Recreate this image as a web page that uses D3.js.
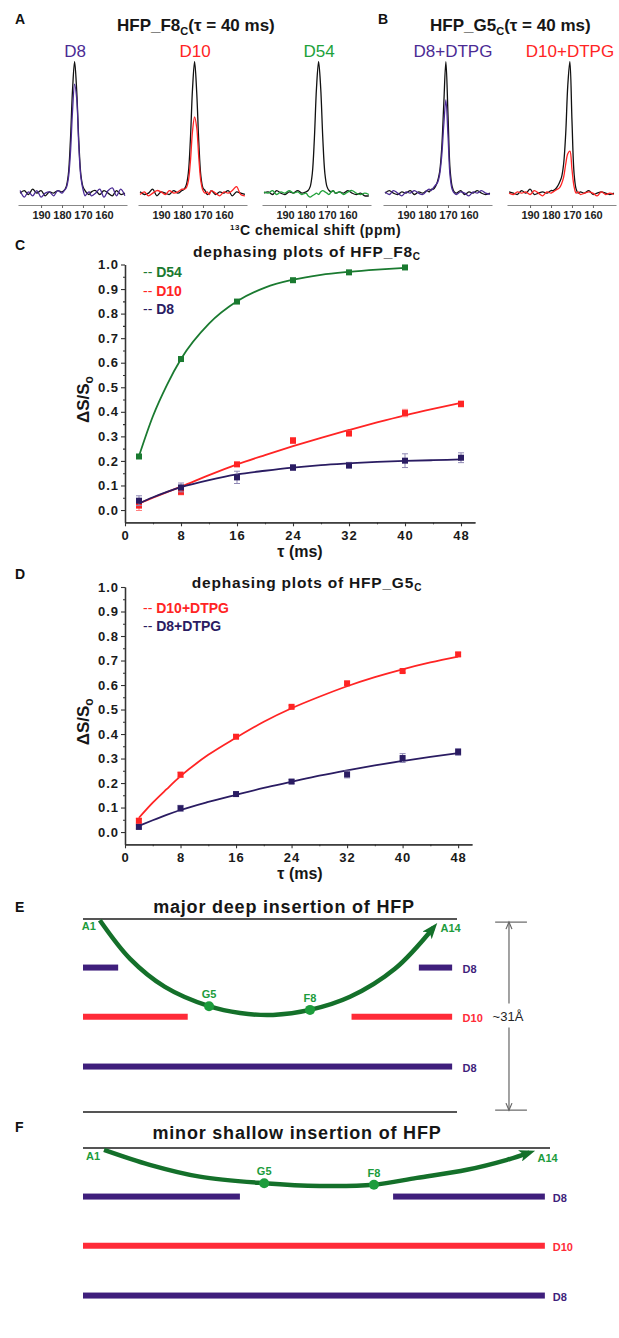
<!DOCTYPE html>
<html>
<head>
<meta charset="utf-8">
<script src="https://cdn.jsdelivr.net/npm/d3@7"></script>
<style>
body { margin: 0; background: #fff; }
svg { display: block; font-family: "Liberation Sans", Arial, sans-serif; }
</style>
</head>
<body>
<script>
// ---------- data: NMR spectra (ppm grid, intensity normalised to reference peak) ----------
var ppmGrid = [200,198,196,194,192,190,188,186,184,182,180,179,178,177,176,175,174,173,172,171,170,169,168,167,166,164,162,160,158,156,154,152,150];
var specTicks = [190, 180, 170, 160];
var specNames = ["D8", "D10", "D54", "D8+DTPG", "D10+DTPG"];

var refD8 = [0.00,0.02,-0.01,0.03,0.00,0.02,-0.02,0.01,0.00,0.02,0.01, 0.02,0.05,0.14,0.40,0.78,1.00,0.78,0.40,0.14,0.05,0.02,0.00,-0.01,0.01, 0.02,-0.01,0.02,0.00,-0.02,0.02,-0.01,0.00];
var depD8 = [0.02,-0.03,0.01,-0.02,0.02,-0.03,0.00,0.01,-0.02,0.02,0.00, 0.02,0.04,0.11,0.30,0.62,0.83,0.72,0.36,0.12,0.03,-0.02,0.00,0.01,-0.02, 0.00,0.03,-0.03,0.02,0.04,-0.02,0.03,-0.02];
var refD10 = [0.01,-0.01,0.00,0.03,-0.02,0.01,0.00,-0.01,0.02,0.00,0.02, 0.03,0.06,0.15,0.41,0.79,1.00,0.77,0.39,0.13,0.04,0.02,-0.01,0.00,0.02, -0.01,0.01,0.00,0.02,-0.02,0.01,0.00,-0.01];
var depD10 = [-0.01,0.01,-0.02,0.00,0.02,0.01,-0.01,0.02,0.00,0.01,0.03, 0.03,0.04,0.09,0.24,0.47,0.58,0.50,0.27,0.09,0.02,0.00,0.01,-0.01,0.02, 0.00,-0.02,0.01,0.00,0.02,0.05,-0.01,-0.02];
var refD54 = [0.00,0.01,-0.01,0.02,0.00,-0.01,0.01,0.00,0.02,0.00,0.01, 0.02,0.05,0.15,0.42,0.80,1.00,0.80,0.42,0.15,0.05,0.02,0.01,0.02,0.00, 0.01,0.00,0.02,0.00,-0.01,0.00,-0.02,-0.02];
var depD54 = [0.01,0.00,0.02,-0.01,0.01,0.00,0.02,0.00,0.01,-0.01,0.00, -0.02,-0.03,-0.02,-0.01,0.00,-0.01,0.01,0.02,0.01,0.00,-0.01,0.01,0.02,0.00, 0.01,-0.01,0.01,0.02,0.00,-0.01,0.00,-0.01];
var refD8dtpg = [0.00,0.02,0.00,-0.01,0.01,0.00,0.02,-0.01,0.01,0.00,0.02, 0.01,0.03,0.03,0.05,0.09,0.16,0.34,0.68,1.00,0.60,0.18,0.05,0.01,0.00, 0.02,-0.01,0.01,0.00,0.02,0.00,-0.01,0.00];
var depD8dtpg = [0.01,-0.01,0.02,0.00,-0.02,0.01,0.00,0.02,0.00,-0.01,0.02, 0.03,0.02,0.04,0.06,0.08,0.14,0.28,0.52,0.71,0.44,0.13,0.03,0.00,-0.01, 0.01,0.00,-0.02,0.01,0.00,0.02,0.00,-0.01];
var refD10dtpg = [0.01,0.00,-0.01,0.02,0.00,0.03,-0.01,0.00,0.01,0.00,0.02, 0.02,0.03,0.05,0.08,0.12,0.22,0.45,0.82,1.00,0.55,0.15,0.03,0.00,0.01, 0.00,0.02,-0.01,0.00,0.01,0.00,-0.01,0.00];
var depD10dtpg = [0.00,-0.01,0.01,0.00,0.01,-0.01,0.02,0.00,-0.02,0.01,0.00, 0.01,0.02,0.03,0.04,0.07,0.12,0.22,0.30,0.32,0.18,0.05,0.00,0.01,-0.01, 0.00,0.01,0.00,-0.02,0.01,-0.01,0.00,-0.01];

// ---------- data: dephasing plots ----------
var tau = [2, 8, 16, 24, 32, 40, 48];
var tauTicks = [0, 8, 16, 24, 32, 40, 48];
var tauMinor = [4, 12, 20, 28, 36, 44];
var dsTicks = [0, 0.1, 0.2, 0.3, 0.4, 0.5, 0.6, 0.7, 0.8, 0.9, 1.0];
var dsMinor = [0.05, 0.15, 0.25, 0.35, 0.45, 0.55, 0.65, 0.75, 0.85, 0.95];

var f8D54 = [0.218, 0.615, 0.849, 0.936, 0.968, 0.988];
var f8D54Err = [0.005, 0.006, 0.006, 0.005, 0.005, 0.006];
var f8D10 = [0.018, 0.074, 0.186, 0.283, 0.312, 0.395, 0.432];
var f8D10Err = [0.020, 0.012, 0.008, 0.012, 0.010, 0.015, 0.012];
var f8D8 = [0.038, 0.092, 0.133, 0.173, 0.182, 0.201, 0.213];
var f8D8Err = [0.020, 0.018, 0.025, 0.012, 0.012, 0.028, 0.020];

var g5D10 = [0.046, 0.234, 0.389, 0.511, 0.607, 0.657, 0.725];
var g5D10Err = [0.010, 0.010, 0.006, 0.006, 0.006, 0.006, 0.008];
var g5D8 = [0.021, 0.097, 0.155, 0.206, 0.235, 0.302, 0.327];
var g5D8Err = [0.008, 0.012, 0.008, 0.008, 0.014, 0.018, 0.014];

// fitted curves
var fitTau = [2, 4, 6, 8, 12, 16, 20, 24, 28, 32, 36, 40, 44, 48];
var f8D54Fit = [0.22, 0.383, 0.51, 0.615, 0.759, 0.85, 0.906, 0.938, 0.958, 0.970, 0.979, 0.986, null, null];
var f8D10Fit = [0.027, 0.05, 0.073, 0.095, 0.142, 0.186, 0.224, 0.26, 0.294, 0.326, 0.357, 0.386, 0.412, 0.436];
var f8D8Fit = [0.027, 0.052, 0.074, 0.093, 0.122, 0.145, 0.16, 0.173, 0.183, 0.19, 0.196, 0.2, 0.203, 0.206];
var g5D10Fit = [0.058, 0.12, 0.175, 0.228, 0.315, 0.385, 0.45, 0.505, 0.552, 0.595, 0.632, 0.664, 0.692, 0.716];
var g5D8Fit = [0.025, 0.048, 0.07, 0.09, 0.123, 0.152, 0.18, 0.205, 0.23, 0.252, 0.272, 0.29, 0.307, 0.322];

// ---------- data: membrane schematics (lateral 0-100, depth in Angstrom) ----------
var layerNames = ["D8", "D10", "D8"];
var layerDepth = [7.8, 15.7, 23.7];
var majorBars = [[[0, 9.4], [89.8, 98.7]], [[0, 28], [71.8, 98.7]], [[0, 98.7]]];
var majorPathX = [4.5, 12.6, 21.9, 33.7, 42, 50.8, 60.7, 71.4, 83.4, 93.7];
var majorPathDepth = [0.2, 6.4, 10.9, 14.0, 15.1, 15.4, 14.6, 12.5, 8.0, 1.4];
var minorBars = [[[0, 33.6], [66.4, 98.9]], [[0, 98.9]], [[0, 98.9]]];
var minorPathX = [4.5, 14.3, 25, 38.8, 50.7, 62.3, 71.5, 82.2, 90.8, 95.6];
var minorPathDepth = [0.3, 2.7, 4.6, 5.65, 6.1, 5.9, 4.8, 3.5, 1.9, 0.74];
var residueNames = ["G5", "F8"];
var majorResidueIdx = [3, 6];
var minorResidueIdx = [3, 5];
var thickness = 31;

// ---------- styles ----------
var cPurple = "#4b2b94", cNavy = "#2a1c62", cRed = "#ff2424", cGreen = "#21a13a", cGreenDark = "#1a7a30";
var cBar = "#3f1f7c", cBarRed = "#ff2b38", cPath = "#14702a", cDot = "#1c9c3c", cLine = "#555";

var svg = d3.select("body").append("svg").attr("width", 619).attr("height", 1338);
svg.append("rect").attr("width", 619).attr("height", 1338).attr("fill", "#fff");
var defs = svg.append("defs");

function letter(t, x, y) {
    svg.append("text").attr("x", x).attr("y", y).attr("font-size", 14).attr("font-weight", "bold").attr("fill", "#111").text(t);
}

function titleSub(x, y, main, sub, rest, size, anchor, spacing) {
    var t = svg.append("text").attr("x", x).attr("y", y).attr("font-size", size).attr("font-weight", "bold")
        .attr("fill", "#161616").attr("text-anchor", anchor || "start").attr("letter-spacing", spacing || 0);
    t.append("tspan").text(main);
    t.append("tspan").attr("font-size", size * 0.65).attr("dy", size * 0.22).text(sub);
    if (rest) t.append("tspan").attr("dy", -size * 0.22).text(rest);
    return t;
}

// ---------- panels A & B ----------
letter("A", 15, 24);
letter("B", 378, 24);
titleSub(117, 31, "HFP_F8", "C", "(\u03c4 = 40 ms)", 17);
titleSub(430, 31, "HFP_G5", "C", "(\u03c4 = 40 ms)", 17);

var specLeft = [18, 138, 262, 383, 507];
var specLabelX = [75, 195, 319, 453, 570];
var specColor = [cPurple, cRed, cGreen, cPurple, cRed];
var refs = [refD8, refD10, refD54, refD8dtpg, refD10dtpg];
var deps = [depD8, depD10, depD54, depD8dtpg, depD10dtpg];
var ySpec = d3.scaleLinear().domain([-0.09, 1]).range([205, 61.7]);

specNames.forEach(function(name, i) {
    var x = d3.scaleLinear().domain([201, 149]).range([specLeft[i], specLeft[i] + 109]);
    var line = d3.line().x(function(d, j) { return x(ppmGrid[j]); }).y(function(d) { return ySpec(d); })
        .curve(d3.curveCatmullRom.alpha(0.5));
    var g = svg.append("g");
    g.append("path").datum(refs[i]).attr("d", line).attr("fill", "none").attr("stroke", "#111").attr("stroke-width", 1.3);
    g.append("path").datum(deps[i]).attr("d", line).attr("fill", "none").attr("stroke", specColor[i]).attr("stroke-width", 1.3);
    var ax = g.append("g").attr("transform", "translate(0,205)")
        .call(d3.axisBottom(x).tickValues(specTicks).tickSize(3).tickSizeOuter(0).tickFormat(d3.format("d")));
    ax.select(".domain").attr("stroke", "#888").attr("stroke-width", 1.2);
    ax.selectAll(".tick line").attr("stroke", "#666");
    ax.selectAll(".tick text").attr("font-size", 11).attr("font-weight", "bold").attr("fill", "#222")
        .attr("font-family", "Liberation Sans, Arial, sans-serif");
    g.append("text").attr("x", specLabelX[i]).attr("y", 57).attr("text-anchor", "middle")
        .attr("font-size", 17).attr("fill", specColor[i]).text(name);
});

var cs = svg.append("text").attr("x", 230).attr("y", 235).attr("font-size", 14).attr("font-weight", "bold")
    .attr("fill", "#161616").attr("letter-spacing", 0.5);
cs.append("tspan").attr("font-size", 8).attr("dy", -5).text("13");
cs.append("tspan").attr("dy", 5).text("C chemical shift (ppm)");

// ---------- panels C & D ----------
function dephasing(cfg) {
    var x = d3.scaleLinear().domain([0, 50]).range(cfg.xr);
    var y = d3.scaleLinear().domain([-0.05, 1.0]).range(cfg.yr);
    var g = svg.append("g");
    var bottom = cfg.yr[0], left = cfg.xr[0];

    var yAx = g.append("g").attr("transform", "translate(" + left + ",0)")
        .call(d3.axisLeft(y).tickValues(dsTicks).tickFormat(d3.format(".1f")).tickSize(4).tickPadding(2).tickSizeOuter(0));
    var yMin = g.append("g").attr("transform", "translate(" + left + ",0)")
        .call(d3.axisLeft(y).tickValues(dsMinor).tickFormat("").tickSize(2).tickSizeOuter(0));
    var xAx = g.append("g").attr("transform", "translate(0," + bottom + ")")
        .call(d3.axisBottom(x).tickValues(tauTicks).tickFormat(d3.format("d")).tickSize(4).tickPadding(4).tickSizeOuter(0));
    var xMin = g.append("g").attr("transform", "translate(0," + bottom + ")")
        .call(d3.axisBottom(x).tickValues(tauMinor).tickFormat("").tickSize(2).tickSizeOuter(0));
    [yAx, yMin, xAx, xMin].forEach(function(a) {
        a.select(".domain").attr("stroke", "#333").attr("stroke-width", 1.3);
        a.selectAll(".tick line").attr("stroke", "#333").attr("stroke-width", 1.1);
        a.selectAll(".tick text").attr("font-size", 13).attr("font-weight", "bold").attr("fill", "#1a1a1a")
            .attr("letter-spacing", 1).attr("font-family", "Liberation Sans, Arial, sans-serif");
    });

    cfg.series.forEach(function(s) {
        var line = d3.line().defined(function(v) { return v != null; })
            .x(function(v, j) { return x(fitTau[j]); }).y(function(v) { return y(v); })
            .curve(d3.curveMonotoneX);
        g.append("path").datum(s.fit).attr("d", line).attr("fill", "none").attr("stroke", s.color).attr("stroke-width", 1.8);
        s.vals.forEach(function(v, j) {
            var cx = x(tau[j]), e = s.err[j];
            g.append("path").attr("d", "M" + (cx - 3) + "," + y(v + e) + "h6M" + cx + "," + y(v + e) + "V" + y(v - e) + "M" + (cx - 3) + "," + y(v - e) + "h6")
                .attr("stroke", s.errColor).attr("stroke-width", 1).attr("fill", "none");
            g.append("rect").attr("x", cx - 3).attr("y", y(v) - 3).attr("width", 6).attr("height", 6).attr("fill", s.color);
        });
    });

    titleSub(cfg.titleX, cfg.titleY, cfg.title, "C", null, 15.5, "middle", 0.8);
    cfg.series.forEach(function(s, k) {
        if (!s.legend) return;
        var t = g.append("text").attr("x", 143).attr("y", cfg.legendY[k]).attr("font-size", 14).attr("fill", s.color);
        t.append("tspan").text("-- ");
        t.append("tspan").attr("font-weight", "bold").text(s.legend);
    });

    var yl = g.append("text").attr("transform", "translate(89," + y(0.45) + ") rotate(-90)")
        .attr("text-anchor", "middle").attr("font-size", 17).attr("font-weight", "bold").attr("fill", "#161616");
    yl.append("tspan").text("\u0394S/S");
    yl.append("tspan").attr("font-size", 12).attr("dy", 4).text("o");
    g.append("text").attr("x", 300).attr("y", bottom + 35).attr("text-anchor", "middle")
        .attr("font-size", 16).attr("font-weight", "bold").attr("fill", "#161616").text("\u03c4 (ms)");
}

letter("C", 15, 250);
dephasing({
    xr: [125, 475], yr: [522.3, 264.5],
    title: "dephasing plots of HFP_F8", titleX: 307, titleY: 257,
    legendY: [277, 296, 314],
    series: [
        { vals: f8D54, err: f8D54Err, fit: f8D54Fit, color: cGreenDark, errColor: "#5a9a6a", legend: "D54" },
        { vals: f8D10, err: f8D10Err, fit: f8D10Fit, color: cRed, errColor: "#ff8080", legend: "D10" },
        { vals: f8D8, err: f8D8Err, fit: f8D8Fit, color: cNavy, errColor: "#8f88b4", legend: "D8" }
    ]
});

letter("D", 15, 579);
dephasing({
    xr: [125, 472], yr: [844.3, 587],
    title: "dephasing plots of HFP_G5", titleX: 307, titleY: 588,
    legendY: [613, 631],
    series: [
        { vals: g5D10, err: g5D10Err, fit: g5D10Fit, color: cRed, errColor: "#ff8080", legend: "D10+DTPG" },
        { vals: g5D8, err: g5D8Err, fit: g5D8Fit, color: cNavy, errColor: "#8f88b4", legend: "D8+DTPG" }
    ]
});

// ---------- panels E & F ----------
defs.append("marker").attr("id", "arrow").attr("viewBox", "0 -6 16 12").attr("refX", 10).attr("refY", 0)
    .attr("markerWidth", 16).attr("markerHeight", 12).attr("markerUnits", "userSpaceOnUse").attr("orient", "auto")
    .append("path").attr("d", "M0,-6L16,0L0,6L4,0Z").attr("fill", cPath);

function membrane(cfg) {
    var x = d3.scaleLinear().domain([0, 100]).range(cfg.xr);
    var y = d3.scaleLinear().domain([0, thickness]).range(cfg.yr);
    var g = svg.append("g");
    cfg.bounds.forEach(function(d) {
        g.append("line").attr("x1", x(0)).attr("x2", x(100)).attr("y1", y(d)).attr("y2", y(d))
            .attr("stroke", cLine).attr("stroke-width", 2);
    });
    cfg.bars.forEach(function(segs, k) {
        var col = layerNames[k] === "D10" ? cBarRed : cBar;
        segs.forEach(function(s) {
            g.append("rect").attr("x", x(s[0])).attr("y", y(layerDepth[k]) - 3).attr("width", x(s[1]) - x(s[0])).attr("height", 6)
                .attr("fill", col);
        });
        g.append("text").attr("x", x(cfg.labelAt)).attr("y", y(layerDepth[k]) + 5).attr("font-size", 11).attr("font-weight", "bold")
            .attr("fill", col).text(layerNames[k]);
    });
    var pts = cfg.px.map(function(v, j) { return [x(v), y(cfg.pd[j])]; });
    g.append("path").datum(pts).attr("d", d3.line().curve(d3.curveCatmullRom.alpha(0.5)))
        .attr("fill", "none").attr("stroke", cPath).attr("stroke-width", 4.5).attr("marker-end", "url(#arrow)");
    cfg.res.forEach(function(idx, k) {
        g.append("circle").attr("cx", pts[idx][0]).attr("cy", pts[idx][1]).attr("r", 5).attr("fill", cDot);
        g.append("text").attr("x", pts[idx][0]).attr("y", pts[idx][1] - 8).attr("text-anchor", "middle")
            .attr("font-size", 11).attr("font-weight", "bold").attr("fill", cDot).text(residueNames[k]);
    });
    g.append("text").attr("x", pts[0][0] - 4).attr("y", pts[0][1] + 10).attr("text-anchor", "end")
        .attr("font-size", 11).attr("font-weight", "bold").attr("fill", cDot).text("A1");
    var last = pts[pts.length - 1];
    g.append("text").attr("x", last[0] + cfg.a14dx).attr("y", last[1] + cfg.a14dy)
        .attr("font-size", 11).attr("font-weight", "bold").attr("fill", cDot).text("A14");
    return { x: x, y: y, g: g };
}

letter("E", 15, 912);
svg.append("text").attr("x", 284).attr("y", 913).attr("text-anchor", "middle").attr("font-size", 18)
    .attr("letter-spacing", 0.8).attr("font-weight", "bold").attr("fill", "#161616").text("major deep insertion of HFP");
var mE = membrane({
    xr: [83, 457], yr: [919, 1112], bounds: [0, thickness], bars: majorBars, labelAt: 101.5,
    px: majorPathX, pd: majorPathDepth, res: majorResidueIdx, a14dx: 7, a14dy: 4
});
// thickness marker
(function() {
    var x = mE.x, y = mE.y, g = mE.g;
    var xm = x(113.9), y0 = y(0.5), y1 = y(30.7), ym = y(thickness / 2);
    g.append("line").attr("x1", x(110.2)).attr("x2", x(118.7)).attr("y1", y0).attr("y2", y0).attr("stroke", "#666").attr("stroke-width", 1.2);
    g.append("line").attr("x1", x(110.2)).attr("x2", x(118.7)).attr("y1", y1).attr("y2", y1).attr("stroke", "#666").attr("stroke-width", 1.2);
    g.append("path").attr("d", "M" + xm + "," + y0 + "V" + (ym - 12) + "M" + xm + "," + (ym + 12) + "V" + y1)
        .attr("stroke", "#666").attr("stroke-width", 1.2).attr("fill", "none");
    g.append("path").attr("d", "M" + (xm - 3) + "," + (y0 + 7) + "L" + xm + "," + y0 + "L" + (xm + 3) + "," + (y0 + 7) +
        "M" + (xm - 3) + "," + (y1 - 7) + "L" + xm + "," + y1 + "L" + (xm + 3) + "," + (y1 - 7))
        .attr("stroke", "#666").attr("stroke-width", 1.2).attr("fill", "none");
    g.append("text").attr("x", xm - 1).attr("y", ym + 5).attr("text-anchor", "middle").attr("font-size", 13)
        .attr("fill", "#222").text("~31\u00c5");
})();

letter("F", 15, 1132);
svg.append("text").attr("x", 297).attr("y", 1139).attr("text-anchor", "middle").attr("font-size", 18)
    .attr("letter-spacing", 0.8).attr("font-weight", "bold").attr("fill", "#161616").text("minor shallow insertion of HFP");
membrane({
    xr: [83, 550], yr: [1148, 1341], bounds: [0], bars: minorBars, labelAt: 100.6,
    px: minorPathX, pd: minorPathDepth, res: minorResidueIdx, a14dx: 8, a14dy: 9
});
</script>
</body>
</html>
